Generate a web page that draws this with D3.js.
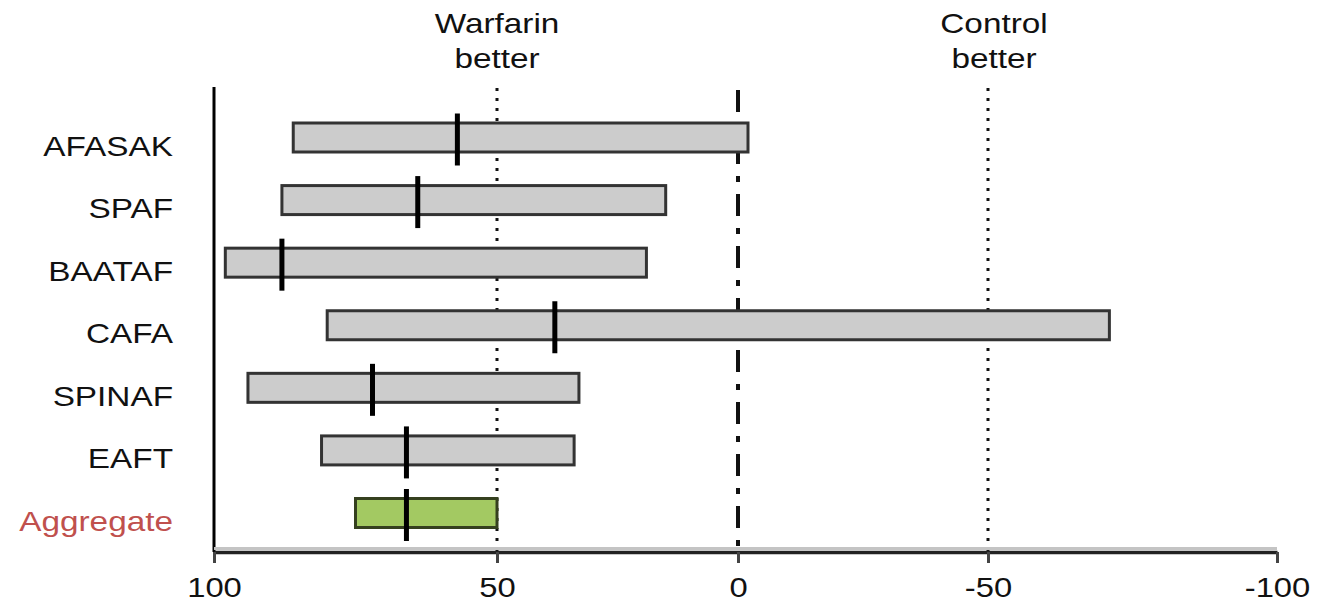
<!DOCTYPE html>
<html>
<head>
<meta charset="utf-8">
<script src="https://cdn.jsdelivr.net/npm/d3@7"></script>
<style>
  body { margin: 0; background: #fff; }
  svg text { font-family: "Liberation Sans", Arial, sans-serif; }
</style>
</head>
<body>
<div id="chart"></div>
<script>
// trial names, top to bottom
const studies = ["AFASAK", "SPAF", "BAATAF", "CAFA", "SPINAF", "EAFT", "Aggregate"];
// risk reduction (%) : interval ends and point estimate
const lower = [86, 88, 98, 80, 94, 81, 75];
const upper = [-2, 15, 19, -71, 33, 34, 50];
const point = [57, 64, 88, 38, 72, 66, 66];
const tickVals = [100, 50, 0, -50, -100];

const W = 1318, H = 605;
const stretch = 1.17; // the original text is a bit wide

const svg = d3.select("#chart").append("svg")
  .attr("width", W)
  .attr("height", H);

// the source picture is not evenly spaced, so go piecewise
const x = d3.scaleLinear()
  .domain([100, 50, 0, -50, -100])
  .range([214, 497, 738, 988, 1277]);

const y = d3.scalePoint()
  .domain(studies)
  .range([137.5, 513]);

const plotTop = 88, plotBase = 552;
const barH = 29, markH = 52;

function wideText(g, tx, ty, str, anchor, color, size) {
  return g.append("text")
    .attr("transform", `translate(${tx},${ty}) scale(${stretch},1)`)
    .attr("text-anchor", anchor)
    .attr("font-size", size)
    .attr("fill", color)
    .text(str);
}

// reference lines
svg.append("line")
  .attr("x1", x(50)).attr("x2", x(50))
  .attr("y1", plotTop).attr("y2", plotBase)
  .attr("stroke", "#111").attr("stroke-width", 3)
  .attr("stroke-dasharray", "3,7");
svg.append("line")
  .attr("x1", x(-50)).attr("x2", x(-50))
  .attr("y1", plotTop).attr("y2", plotBase)
  .attr("stroke", "#111").attr("stroke-width", 3)
  .attr("stroke-dasharray", "3,7");
svg.append("line")
  .attr("x1", x(0)).attr("x2", x(0))
  .attr("y1", 90).attr("y2", plotBase)
  .attr("stroke", "#111").attr("stroke-width", 4)
  .attr("stroke-dasharray", "22,12,6,12");

// bars
const rows = svg.append("g").selectAll("g")
  .data(studies)
  .join("g");

rows.append("rect")
  .attr("x", (d, i) => x(lower[i]))
  .attr("y", d => y(d) - barH / 2)
  .attr("width", (d, i) => x(upper[i]) - x(lower[i]))
  .attr("height", barH)
  .attr("fill", d => d === "Aggregate" ? "#a3c962" : "#cccccc")
  .attr("stroke", d => d === "Aggregate" ? "#35401f" : "#333")
  .attr("stroke-width", 3);

rows.append("line")
  .attr("x1", (d, i) => x(point[i]))
  .attr("x2", (d, i) => x(point[i]))
  .attr("y1", d => y(d) - markH / 2 + 2)
  .attr("y2", d => y(d) + markH / 2 + 2)
  .attr("stroke", "#000")
  .attr("stroke-width", 5);

// row labels
studies.forEach(s => {
  wideText(svg, 173, y(s) + 18, s, "end",
    s === "Aggregate" ? "#c0504d" : "#111", 28.5);
});

// left axis line
svg.append("line")
  .attr("x1", 214).attr("x2", 214)
  .attr("y1", plotTop - 1).attr("y2", plotBase)
  .attr("stroke", "#000").attr("stroke-width", 3);

// bottom axis
svg.append("line")
  .attr("x1", x(100)).attr("x2", x(-100))
  .attr("y1", plotBase - 3.5).attr("y2", plotBase - 3.5)
  .attr("stroke", "#c4c4c4").attr("stroke-width", 3);

const xAxis = svg.append("g")
  .attr("transform", `translate(0,${plotBase})`)
  .call(d3.axisBottom(x)
    .tickValues(tickVals)
    .tickFormat(d => String(d))
    .tickSize(11).tickSizeOuter(0).tickPadding(14));

xAxis.select(".domain")
  .attr("stroke", "#222").attr("stroke-width", 3.5);
xAxis.selectAll(".tick line")
  .attr("stroke", "#444").attr("stroke-width", 3);
xAxis.selectAll(".tick text")
  .attr("font-size", 28)
  .attr("font-family", "Liberation Sans, Arial, sans-serif")
  .attr("fill", "#111")
  .attr("transform", `scale(${stretch},1)`);

// headers
wideText(svg, 497, 33, "Warfarin", "middle", "#111", 28.5);
wideText(svg, 497, 68, "better", "middle", "#111", 28.5);
wideText(svg, 994, 33, "Control", "middle", "#111", 28.5);
wideText(svg, 994, 68, "better", "middle", "#111", 28.5);
</script>
</body>
</html>
